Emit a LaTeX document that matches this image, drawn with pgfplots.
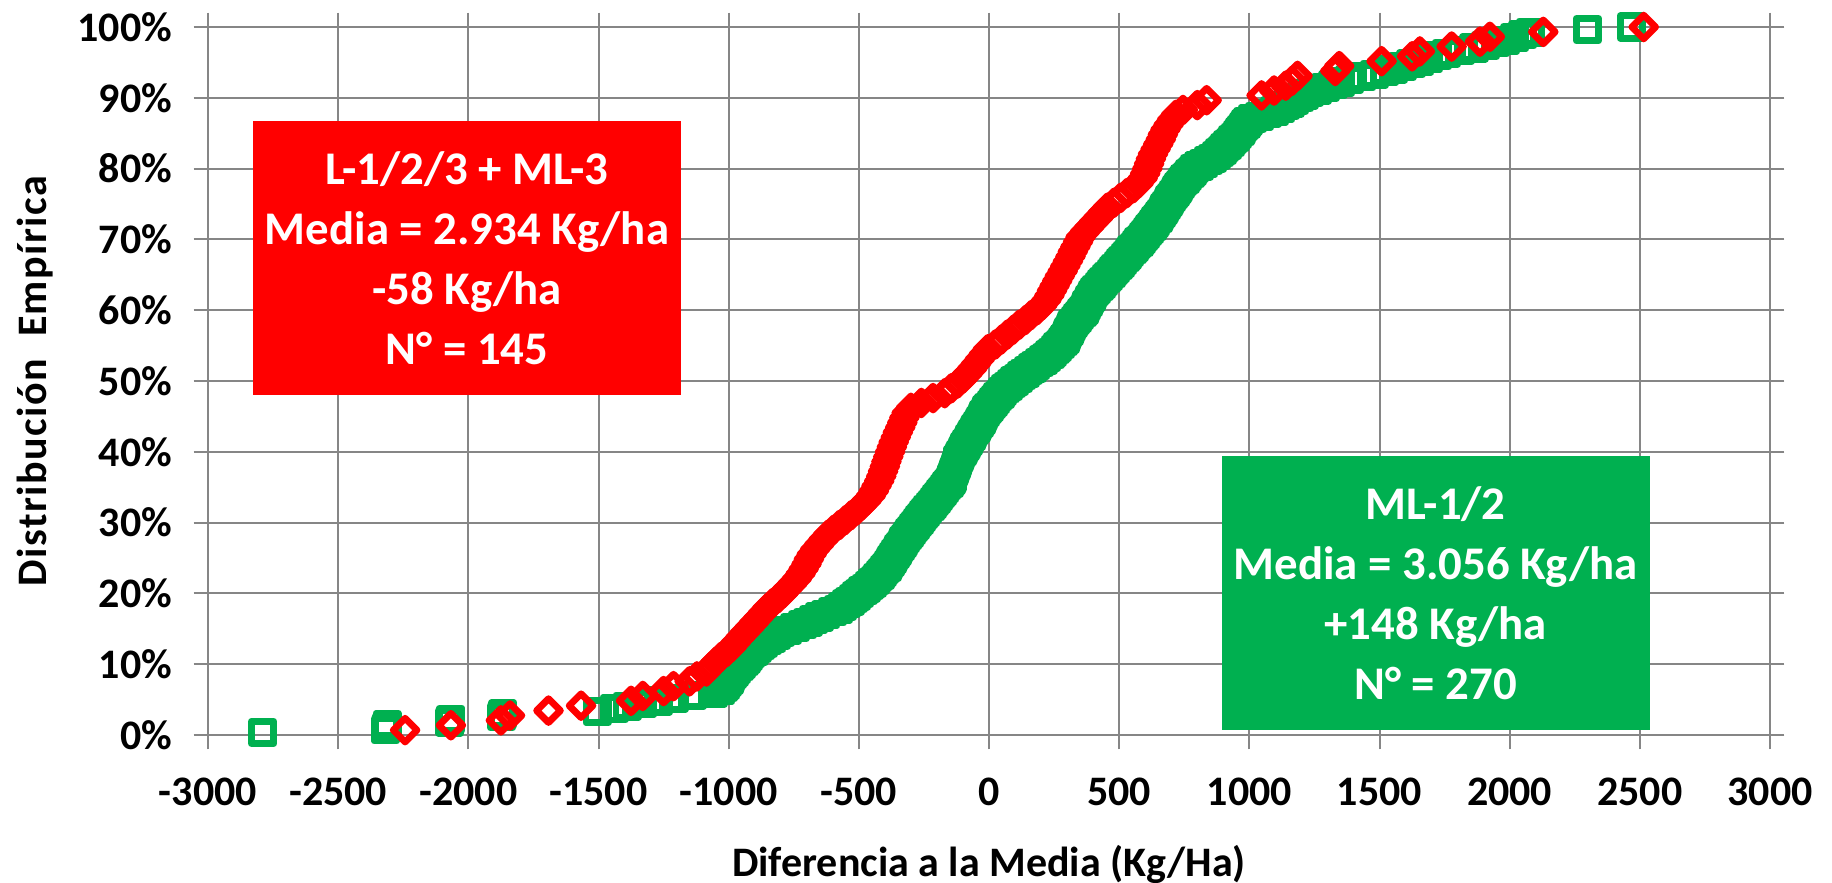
\documentclass[border=0pt]{standalone}
\usepackage{pgfplots}
\pgfplotsset{compat=1.18}
\usepackage{fontspec}
\setmainfont{Carlito}
\definecolor{gridgray}{RGB}{134,134,134}
\definecolor{mygreen}{RGB}{0,176,80}
\definecolor{myred}{RGB}{255,0,0}
\begin{document}
\begin{tikzpicture}
\useasboundingbox (-52pt,-36.75pt) rectangle (406pt,183.75pt);
\begin{axis}[
  at={(0,0)}, anchor=south west,
  scale only axis, width=390.5pt, height=177pt,
  xmin=-3000, xmax=3000, ymin=0, ymax=100,
  xtick={-3000,-2500,-2000,-1500,-1000,-500,0,500,1000,1500,2000,2500,3000},
  xticklabels={-3000,-2500,-2000,-1500,-1000,-500,0,500,1000,1500,2000,2500,3000},
  ytick={0,10,20,30,40,50,60,70,80,90,100},
  yticklabels={0\%,10\%,20\%,30\%,40\%,50\%,60\%,70\%,80\%,90\%,100\%},
  grid=major, grid style={gridgray, line width=0.5pt},
  axis line style={gridgray, line width=0.5pt},
  tick align=outside, major tick length=3.6pt,
  tick style={gridgray, line width=0.5pt},
  ticklabel style={font=\bfseries\fontsize{10.5}{12}\selectfont, text=black},
  xticklabel style={anchor=base, yshift=-13.9pt},
  yticklabel style={anchor=east, inner sep=0pt, xshift=-5.2pt},
  clip=false,
]
\addplot[only marks, mark=square, color=mygreen, mark size=2.8pt,
  mark options={line width=1.7pt, line join=round}] coordinates {
(-2790,0.37) (-2318,0.74) (-2315,1.11) (-2312,1.48) (-2072,1.85) (-2068,2.22) (-1872,2.59) (-1868,2.96)
(-1505,3.33) (-1440,3.70) (-1390,4.07) (-1330,4.44) (-1270,4.81) (-1210,5.19) (-1140,5.56) (-1060,5.93)
(-1030,6.30) (-1021,6.67) (-1011,7.04) (-1005,7.41) (-998,7.78) (-992,8.15) (-985,8.52) (-978,8.89)
(-969,9.26) (-960,9.63) (-950,10.00) (-941,10.37) (-933,10.74) (-924,11.11) (-915,11.48) (-903,11.85)
(-891,12.22) (-878,12.59) (-866,12.96) (-850,13.33) (-834,13.70) (-817,14.07) (-802,14.44) (-774,14.81)
(-745,15.19) (-717,15.56) (-695,15.93) (-673,16.30) (-652,16.67) (-627,17.04) (-601,17.41) (-577,17.78)
(-563,18.15) (-548,18.52) (-534,18.89) (-521,19.26) (-509,19.63) (-497,20.00) (-484,20.37) (-472,20.74)
(-460,21.11) (-449,21.48) (-437,21.85) (-427,22.22) (-418,22.59) (-410,22.96) (-401,23.33) (-392,23.70)
(-385,24.07) (-379,24.44) (-373,24.81) (-366,25.19) (-360,25.56) (-353,25.93) (-347,26.30) (-340,26.67)
(-333,27.04) (-327,27.41) (-320,27.78) (-312,28.15) (-305,28.52) (-297,28.89) (-290,29.26) (-282,29.63)
(-275,30.00) (-267,30.37) (-259,30.74) (-251,31.11) (-243,31.48) (-235,31.85) (-226,32.22) (-218,32.59)
(-210,32.96) (-202,33.33) (-194,33.70) (-186,34.07) (-178,34.44) (-170,34.81) (-162,35.19) (-154,35.56)
(-146,35.93) (-142,36.30) (-139,36.67) (-136,37.04) (-132,37.41) (-129,37.78) (-126,38.15) (-122,38.52)
(-119,38.89) (-114,39.26) (-109,39.63) (-103,40.00) (-97,40.37) (-92,40.74) (-86,41.11) (-80,41.48)
(-75,41.85) (-68,42.22) (-62,42.59) (-56,42.96) (-50,43.33) (-43,43.70) (-37,44.07) (-31,44.44)
(-26,44.81) (-20,45.19) (-14,45.56) (-8,45.93) (0,46.30) (9,46.67) (17,47.04) (26,47.41)
(34,47.78) (43,48.15) (51,48.52) (62,48.89) (74,49.26) (87,49.63) (99,50.00) (112,50.37)
(124,50.74) (138,51.11) (152,51.48) (166,51.85) (180,52.22) (194,52.59) (208,52.96) (222,53.33)
(234,53.70) (244,54.07) (254,54.44) (264,54.81) (274,55.19) (284,55.56) (292,55.93) (297,56.30)
(302,56.67) (307,57.04) (312,57.41) (317,57.78) (323,58.15) (332,58.52) (340,58.89) (348,59.26)
(357,59.63) (365,60.00) (371,60.37) (376,60.74) (382,61.11) (387,61.48) (393,61.85) (398,62.22)
(405,62.59) (414,62.96) (423,63.33) (432,63.70) (441,64.07) (450,64.44) (459,64.81) (469,65.19)
(478,65.56) (487,65.93) (496,66.30) (505,66.67) (514,67.04) (523,67.41) (531,67.78) (540,68.15)
(549,68.52) (558,68.89) (567,69.26) (576,69.63) (585,70.00) (594,70.37) (602,70.74) (610,71.11)
(618,71.48) (626,71.85) (634,72.22) (641,72.59) (649,72.96) (656,73.33) (662,73.70) (669,74.07)
(675,74.44) (681,74.81) (688,75.19) (694,75.56) (701,75.93) (708,76.30) (715,76.67) (722,77.04)
(729,77.41) (736,77.78) (744,78.15) (753,78.52) (762,78.89) (772,79.26) (781,79.63) (790,80.00)
(807,80.37) (825,80.74) (842,81.11) (859,81.48) (874,81.85) (885,82.22) (896,82.59) (906,82.96)
(917,83.33) (927,83.70) (936,84.07) (946,84.44) (955,84.81) (964,85.19) (971,85.56) (979,85.93)
(987,86.30) (995,86.67) (1011,87.04) (1040,87.41) (1069,87.78) (1098,88.15) (1121,88.52) (1139,88.89)
(1156,89.26) (1174,89.63) (1192,90.00) (1210,90.37) (1231,90.74) (1261,91.11) (1291,91.48) (1321,91.85)
(1351,92.22) (1385,92.59) (1432,92.96) (1480,93.33) (1520,93.70) (1554,94.07) (1587,94.44) (1621,94.81)
(1655,95.19) (1689,95.56) (1723,95.93) (1757,96.30) (1810,96.67) (1863,97.04) (1907,97.41) (1946,97.78)
(1985,98.15) (2020,98.52) (2050,98.89) (2080,99.26) (2299,99.63) (2468,100.00)
};
\addplot[only marks, mark=square, color=myred, mark size=2.1pt,
  mark options={rotate=45, line width=1.7pt, line join=round}] coordinates {
(-2243,0.69) (-2067,1.38) (-1875,2.07) (-1840,2.76) (-1692,3.45) (-1567,4.14) (-1375,4.83) (-1330,5.52)
(-1250,6.21) (-1212,6.90) (-1150,7.59) (-1122,8.28) (-1085,8.97) (-1068,9.66) (-1050,10.34) (-1030,11.03)
(-1008,11.72) (-988,12.41) (-972,13.10) (-955,13.79) (-938,14.48) (-920,15.17) (-903,15.86) (-886,16.55)
(-869,17.24) (-852,17.93) (-832,18.62) (-810,19.31) (-790,20.00) (-773,20.69) (-755,21.38) (-738,22.07)
(-724,22.76) (-712,23.45) (-701,24.14) (-692,24.83) (-681,25.52) (-668,26.21) (-652,26.90) (-636,27.59)
(-619,28.28) (-598,28.97) (-575,29.66) (-552,30.34) (-530,31.03) (-508,31.72) (-488,32.41) (-470,33.10)
(-454,33.79) (-442,34.48) (-432,35.17) (-422,35.86) (-414,36.55) (-407,37.24) (-400,37.93) (-394,38.62)
(-387,39.31) (-380,40.00) (-373,40.69) (-366,41.38) (-358,42.07) (-350,42.76) (-341,43.45) (-333,44.14)
(-325,44.83) (-316,45.52) (-300,46.21) (-260,46.90) (-215,47.59) (-170,48.28) (-145,48.97) (-120,49.66)
(-100,50.34) (-82,51.03) (-65,51.72) (-50,52.41) (-35,53.10) (-20,53.79) (-5,54.48) (25,55.17)
(48,55.86) (70,56.55) (93,57.24) (115,57.93) (140,58.62) (162,59.31) (185,60.00) (205,60.69)
(220,61.38) (232,62.07) (242,62.76) (252,63.45) (262,64.14) (272,64.83) (283,65.52) (293,66.21)
(303,66.90) (313,67.59) (322,68.28) (332,68.97) (342,69.66) (352,70.34) (368,71.03) (385,71.72)
(402,72.41) (420,73.10) (437,73.79) (455,74.48) (480,75.17) (505,75.86) (530,76.55) (555,77.24)
(575,77.93) (590,78.62) (600,79.31) (608,80.00) (615,80.69) (622,81.38) (630,82.07) (640,82.76)
(650,83.45) (660,84.14) (668,84.83) (678,85.52) (690,86.21) (703,86.90) (718,87.59) (745,88.28)
(800,88.97) (836,89.66) (1047,90.34) (1095,91.03) (1140,91.72) (1165,92.41) (1185,93.10) (1330,93.79)
(1345,94.48) (1508,95.17) (1625,95.86) (1655,96.55) (1777,97.24) (1886,97.93) (1924,98.62) (2129,99.31)
(2515,100.00)
};
\fill[myred] (axis cs:-2828,48.0) rectangle (axis cs:-1183,86.7);
\node[text=white, align=center, font=\bfseries\fontsize{11.7}{15}\selectfont]
  at (axis cs:-2005,67.35) {L-1/2/3 + ML-3\\Media = 2.934 Kg/ha\\-58 Kg/ha\\N° = 145};
\fill[mygreen] (axis cs:895,0.7) rectangle (axis cs:2538,39.4);
\node[text=white, align=center, font=\bfseries\fontsize{11.7}{15}\selectfont]
  at (axis cs:1716,20.05) {ML-1/2\\Media = 3.056 Kg/ha\\+148 Kg/ha\\N° = 270};
\end{axis}
\node[font=\bfseries\fontsize{10.5}{12}\selectfont] at (195.25pt,-32.4pt) {Diferencia a la Media (Kg/Ha)};
\node[rotate=90, font=\bfseries\fontsize{10.5}{12}\selectfont\addfontfeature{LetterSpace=3.5}] at (-43.25pt,88.5pt) {Distribución~~Empírica};
\end{tikzpicture}
\end{document}
